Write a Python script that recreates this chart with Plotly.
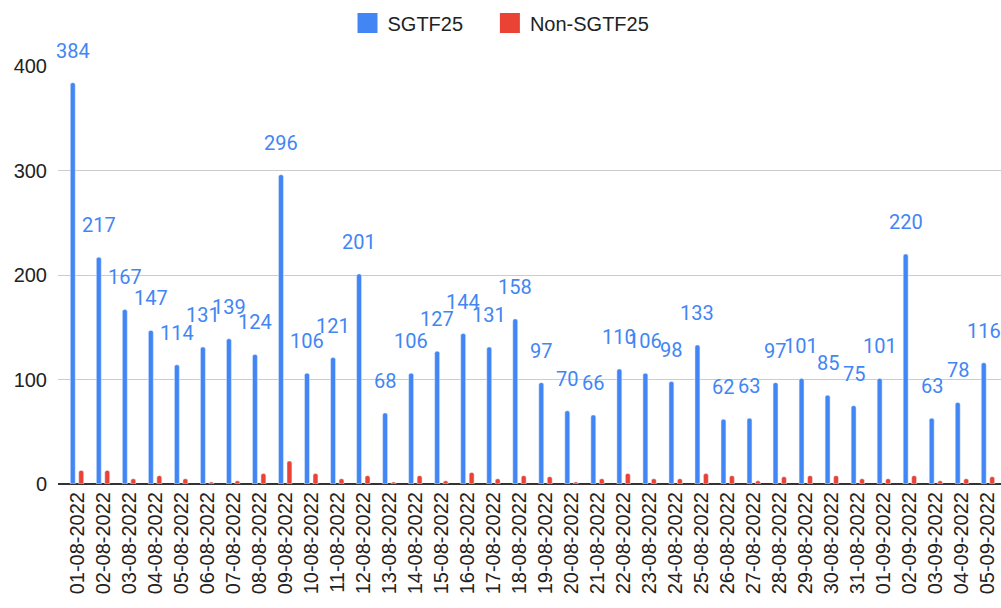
import plotly.graph_objects as go

dates = ["01-08-2022", "02-08-2022", "03-08-2022", "04-08-2022", "05-08-2022", "06-08-2022",
         "07-08-2022", "08-08-2022", "09-08-2022", "10-08-2022", "11-08-2022", "12-08-2022",
         "13-08-2022", "14-08-2022", "15-08-2022", "16-08-2022", "17-08-2022", "18-08-2022",
         "19-08-2022", "20-08-2022", "21-08-2022", "22-08-2022", "23-08-2022", "24-08-2022",
         "25-08-2022", "26-08-2022", "27-08-2022", "28-08-2022", "29-08-2022", "30-08-2022",
         "31-08-2022", "01-09-2022", "02-09-2022", "03-09-2022", "04-09-2022", "05-09-2022"]
sgtf25 = [384, 217, 167, 147, 114, 131, 139, 124, 296, 106, 121, 201, 68, 106, 127, 144, 131, 158,
          97, 70, 66, 110, 106, 98, 133, 62, 63, 97, 101, 85, 75, 101, 220, 63, 78, 116]
non_sgtf25 = [13, 13, 5, 8, 5, 2, 3, 10, 22, 10, 5, 8, 2, 8, 3, 11, 5, 8,
              7, 2, 5, 10, 5, 5, 10, 8, 3, 7, 8, 8, 5, 5, 8, 3, 5, 7]
y_ticks = [0, 100, 200, 300, 400]

BLUE = "#4285F4"
RED = "#EA4335"
AXIS_FONT = "Liberation Sans, Arial, sans-serif"

fig = go.Figure()
fig.add_trace(go.Bar(x=dates, y=sgtf25, name="SGTF25", showlegend=False,
                     marker=dict(color=BLUE, cornerradius=2)))
fig.add_trace(go.Bar(x=dates, y=non_sgtf25, name="Non-SGTF25", showlegend=False,
                     marker=dict(color=RED, cornerradius=2)))
# legend entries with square swatches (one legend each for precise placement)
for name, col, lg in [("SGTF25", BLUE, "legend"), ("Non-SGTF25", RED, "legend2")]:
    fig.add_trace(go.Scatter(x=[None], y=[None], mode="markers", name=name, legend=lg,
                             marker=dict(symbol="square", size=16, color=col,
                                         line=dict(width=4, color=col))))

for d, v in zip(dates, sgtf25):
    fig.add_annotation(x=d, y=v, text=str(v), showarrow=False, xshift=-4.3, yshift=32,
                       yanchor="middle", font=dict(family="Roboto", size=20, color=BLUE))

legend_common = dict(orientation="h", xanchor="left", y=0.962, yanchor="middle",
                     yref="container", font=dict(family=AXIS_FONT, size=20, color="#222222"),
                     itemsizing="trace", itemwidth=30, bgcolor="rgba(0,0,0,0)")

fig.update_layout(
    width=1001, height=608,
    margin=dict(l=58, r=0, t=66, b=124),
    paper_bgcolor="white", plot_bgcolor="white",
    barmode="group", bargap=0.35, bargroupgap=0.42,
    font=dict(family=AXIS_FONT, size=20, color="#222222"),
    legend=dict(x=0.307, **legend_common),
    legend2=dict(x=0.458, **legend_common),
    showlegend=True,
)
fig.update_xaxes(type="category", range=[-0.73, 35.5], tickangle=-90, showgrid=False,
                 showline=False, ticks="", ticklabelstandoff=3,
                 tickfont=dict(family=AXIS_FONT, size=20, color="#222222"))
fig.update_yaxes(range=[0, 400], tickvals=y_ticks, showgrid=True, gridcolor="#cccccc",
                 gridwidth=1, zeroline=True, zerolinecolor="#333333", zerolinewidth=2,
                 ticks="", ticklabelstandoff=10,
                 tickfont=dict(family=AXIS_FONT, size=20, color="#222222"))

fig.write_html("out.html", config={"displayModeBar": False},
               post_script="document.body.style.margin='0';document.body.style.overflow='hidden';")
